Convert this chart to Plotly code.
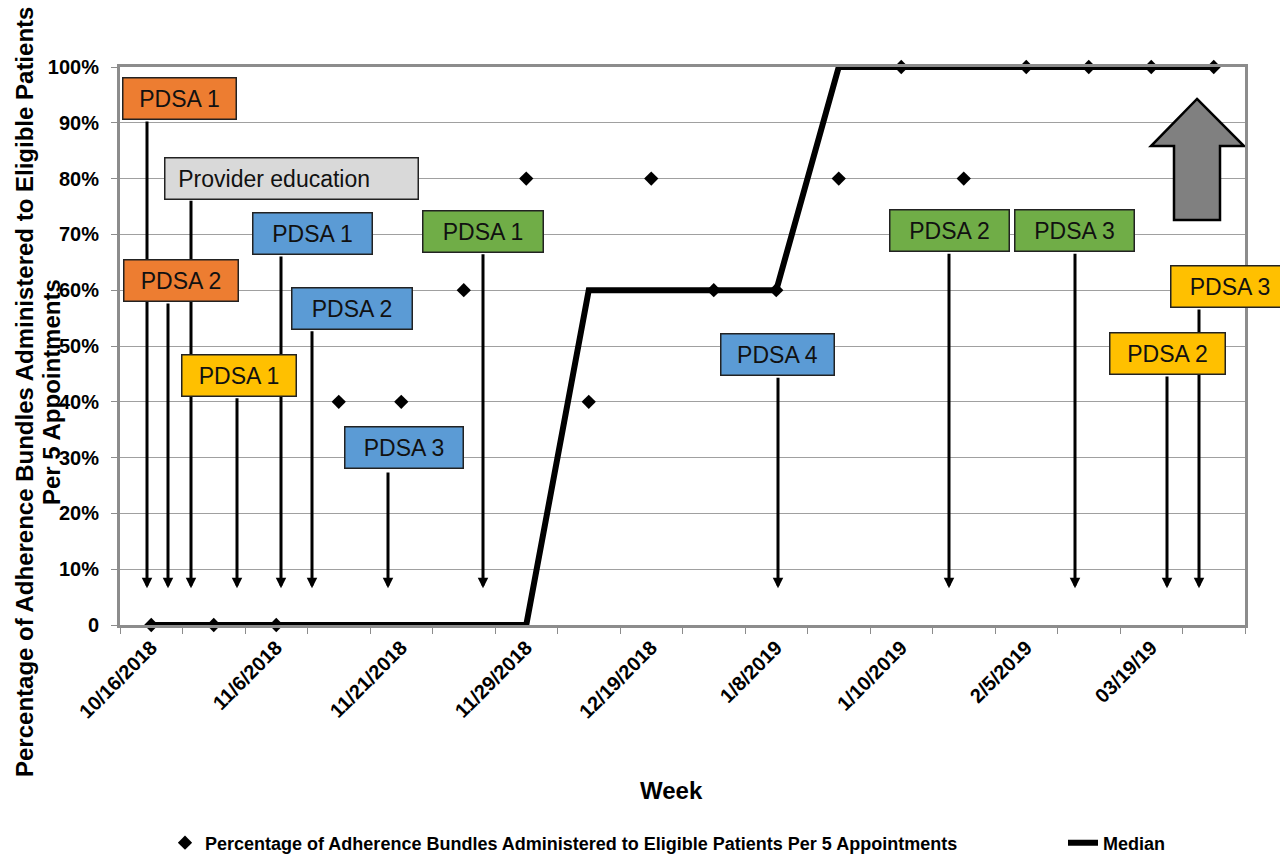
import plotly.graph_objects as go

# Weekly run chart data (18 weeks)
week_index = list(range(18))
adherence_pct = [0, 0, 0, 40, 40, 60, 80, 40, 80, 60, 60, 80, 100, 80, 100, 100, 100, 100]
median_pct = [0, 0, 0, 0, 0, 0, 0, 60, 60, 60, 60, 100, 100, 100, 100, 100, 100, 100]

# Date labels shown on every other week
label_weeks = [0, 2, 4, 6, 8, 10, 12, 14, 16]
week_labels = ["10/16/2018", "11/6/2018", "11/21/2018", "11/29/2018", "12/19/2018",
               "1/8/2019", "1/10/2019", "2/5/2019", "03/19/19"]

y_ticks = [0, 10, 20, 30, 40, 50, 60, 70, 80, 90, 100]
y_tick_labels = ["0", "10%", "20%", "30%", "40%", "50%", "60%", "70%", "80%", "90%", "100%"]

FONT = "Arial, 'Liberation Sans', sans-serif"
ORANGE = "#ED7D31"
GRAY = "#D9D9D9"
BLUE = "#5B9BD5"
GREEN = "#70AD47"
YELLOW = "#FFC000"

# Intervention call-outs: label, fill, box centre (week, %), box width in px
callouts = [
    ("PDSA 1", ORANGE, 0.452, 94.4, 115),
    ("Provider education", GRAY, 2.244, 80.1, 255),
    ("PDSA 2", ORANGE, 0.476, 61.7, 116),
    ("PDSA 1", YELLOW, 1.404, 44.7, 116),
    ("PDSA 1", BLUE, 2.58, 70.2, 121),
    ("PDSA 2", BLUE, 3.212, 56.7, 122),
    ("PDSA 3", BLUE, 4.044, 31.8, 120),
    ("PDSA 1", GREEN, 5.308, 70.5, 122),
    ("PDSA 4", BLUE, 10.02, 48.5, 115),
    ("PDSA 2", GREEN, 12.772, 70.7, 121),
    ("PDSA 3", GREEN, 14.772, 70.7, 121),
    ("PDSA 3", YELLOW, 17.26, 60.7, 120),
    ("PDSA 2", YELLOW, 16.26, 48.7, 117),
]
# Pointer arrows: week position, start level (%); all end at POINTER_TIP
pointers = [
    (-0.068, 90.5), (0.636, 76.3), (0.268, 57.9), (1.372, 40.9), (2.076, 66.3),
    (2.572, 52.9), (3.788, 27.6), (5.308, 66.7), (10.028, 44.6), (12.764, 66.8),
    (14.78, 66.8), (16.764, 56.8), (16.252, 44.8),
]
POINTER_TIP = 6.6

fig = go.Figure()

fig.add_trace(go.Scatter(
    x=week_index, y=median_pct, mode="lines", name="Median",
    line=dict(color="black", width=6), legendrank=2, cliponaxis=False,
))
fig.add_trace(go.Scatter(
    x=week_index, y=adherence_pct, mode="markers",
    name="Percentage of Adherence Bundles Administered to Eligible Patients Per 5 Appointments",
    marker=dict(symbol="diamond", size=11, color="black"),
    legendrank=1, legendwidth=853, cliponaxis=False,
))

annotations = []
for px_x, y0 in pointers:
    annotations.append(dict(
        x=px_x, y=POINTER_TIP, xref="x", yref="y",
        ax=px_x, ay=y0, axref="x", ayref="y",
        text="", showarrow=True, arrowhead=2, arrowsize=0.7,
        arrowwidth=3, arrowcolor="black",
    ))
for label, color, cx, cy, w in callouts:
    left = label == "Provider education"
    annotations.append(dict(
        x=cx, y=cy, xref="x", yref="y", showarrow=False,
        text=("&nbsp;&nbsp;" + label) if left else label,
        align="left" if left else "center",
        width=w - 3, height=40, bgcolor=color,
        bordercolor="#222222", borderwidth=1.5, borderpad=0,
        font=dict(family=FONT, size=23, color="#111111"),
        xanchor="center", yanchor="middle",
    ))

# Axis titles (positions given in pixels, converted to paper fractions below)
title_font = dict(family=FONT, size=24, color="black", weight="bold")
titles = [
    dict(text="Percentage of Adherence Bundles Administered to Eligible Patients",
         x=24, y=392, textangle=-90),
    dict(text="Per 5 Appointments", x=51, y=392, textangle=-90),
    dict(text="Week", x=671, y=790, textangle=0),
]

L, R, T, B, W, H = 120, 35, 67, 231, 1280, 856
pw, ph = W - L - R, H - T - B
for t in titles:
    annotations.append(dict(
        text=t["text"], textangle=t["textangle"],
        x=(t["x"] - L) / pw, y=(H - B - t["y"]) / ph,
        xref="paper", yref="paper", showarrow=False, font=title_font,
        xanchor="center", yanchor="middle",
    ))

fig.update_layout(
    width=W, height=H,
    margin=dict(l=L, r=R, t=T, b=B, autoexpand=False),
    plot_bgcolor="white", paper_bgcolor="white",
    font=dict(family=FONT, color="black"),
    annotations=annotations,
    shapes=[dict(
        type="path", xref="x", yref="y", layer="above",
        path=("M16.732,94.27 L17.484,85.84 L17.1,85.84 L17.1,72.58 "
              "L16.364,72.58 L16.364,85.84 L15.996,85.84 Z"),
        fillcolor="#808080", line=dict(color="black", width=2.5),
    )],
    showlegend=True,
    legend=dict(
        orientation="h", x=0.04, y=(H - B - 843) / ph, xanchor="left", yanchor="middle",
        font=dict(family=FONT, size=18, color="black", weight="bold"),
        bgcolor="rgba(0,0,0,0)",
    ),
)

fig.update_xaxes(
    range=[-0.5, 17.5], tickmode="array", tickvals=label_weeks, ticktext=week_labels,
    tickangle=-45, ticks="", showgrid=False, zeroline=False,
    tickfont=dict(family=FONT, size=20, color="black", weight="bold"),
    showline=True, linecolor="#8c8c8c", linewidth=3, mirror=True,
    ticklabelstandoff=0,
    minor=dict(tickmode="linear", tick0=-0.5, dtick=1, ticks="outside",
               ticklen=6, tickcolor="#8c8c8c", tickwidth=1, showgrid=False),
)
fig.update_yaxes(
    range=[0, 100], tickmode="array", tickvals=y_ticks, ticktext=y_tick_labels,
    ticks="outside", ticklen=6, tickcolor="#8c8c8c",
    showgrid=True, gridcolor="#a0a0a0", gridwidth=1, zeroline=False,
    tickfont=dict(family=FONT, size=20, color="black", weight="bold"),
    showline=True, linecolor="#8c8c8c", linewidth=3, mirror=True,
    ticklabelstandoff=8,
)

fig.write_html("out.html")
